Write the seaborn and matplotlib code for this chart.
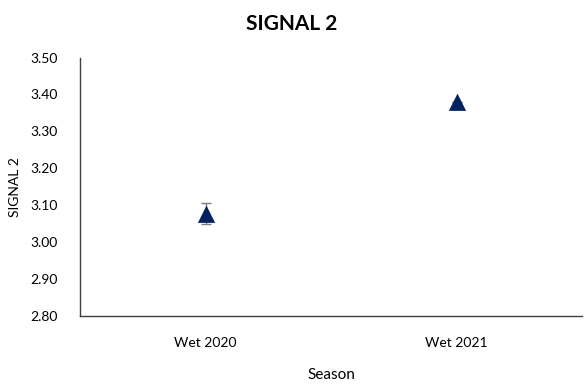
import numpy as np
import pandas as pd
import matplotlib
matplotlib.use('Agg')
import matplotlib.pyplot as plt
import seaborn as sns

# values
seasons = ['Wet 2020', 'Wet 2021']
signal_mean = [3.077, 3.380]
signal_err = [0.028, 0.0]

sns.set_theme(style='white')
plt.rcParams['font.family'] = ['Lato', 'DejaVu Sans']

df = pd.DataFrame({'Season': seasons, 'SIGNAL 2': signal_mean})

fig = plt.figure(figsize=(5.84, 3.88), dpi=100)
ax = fig.add_axes([0.137, 0.1856, 0.8596, 0.6662])

# error bars under the markers
ax.errorbar(np.arange(len(seasons)), signal_mean, yerr=signal_err, fmt='none',
            ecolor='#7f7f7f', elinewidth=1.0, capsize=3.5, capthick=1.0, zorder=1)

sns.scatterplot(data=df, x='Season', y='SIGNAL 2', marker='^', s=135,
                color='#002060', edgecolor='#002060', linewidth=0.5, ax=ax, zorder=3)

ax.set_xlim(-0.5, 1.5)
ax.set_ylim(2.80, 3.50)
ax.set_yticks(np.arange(2.80, 3.501, 0.10))
ax.set_yticklabels([f'{v:.2f}' for v in np.arange(2.80, 3.501, 0.10)])
ax.tick_params(axis='both', length=0, labelsize=10, colors='#000000')
ax.tick_params(axis='y', pad=16)
ax.tick_params(axis='x', pad=15)

for side in ['top', 'right']:
    ax.spines[side].set_visible(False)
for side in ['left', 'bottom']:
    ax.spines[side].set_color('#404040')
    ax.spines[side].set_linewidth(1.0)

ax.set_xlabel('Season', fontsize=11, labelpad=14, color='#000000')
ax.set_ylabel('SIGNAL 2', fontsize=10, labelpad=7, color='#000000')
fig.suptitle('SIGNAL 2', fontsize=15, fontweight='bold', x=0.5, y=0.965, color='#000000')

fig.savefig('out.png', dpi=100)
